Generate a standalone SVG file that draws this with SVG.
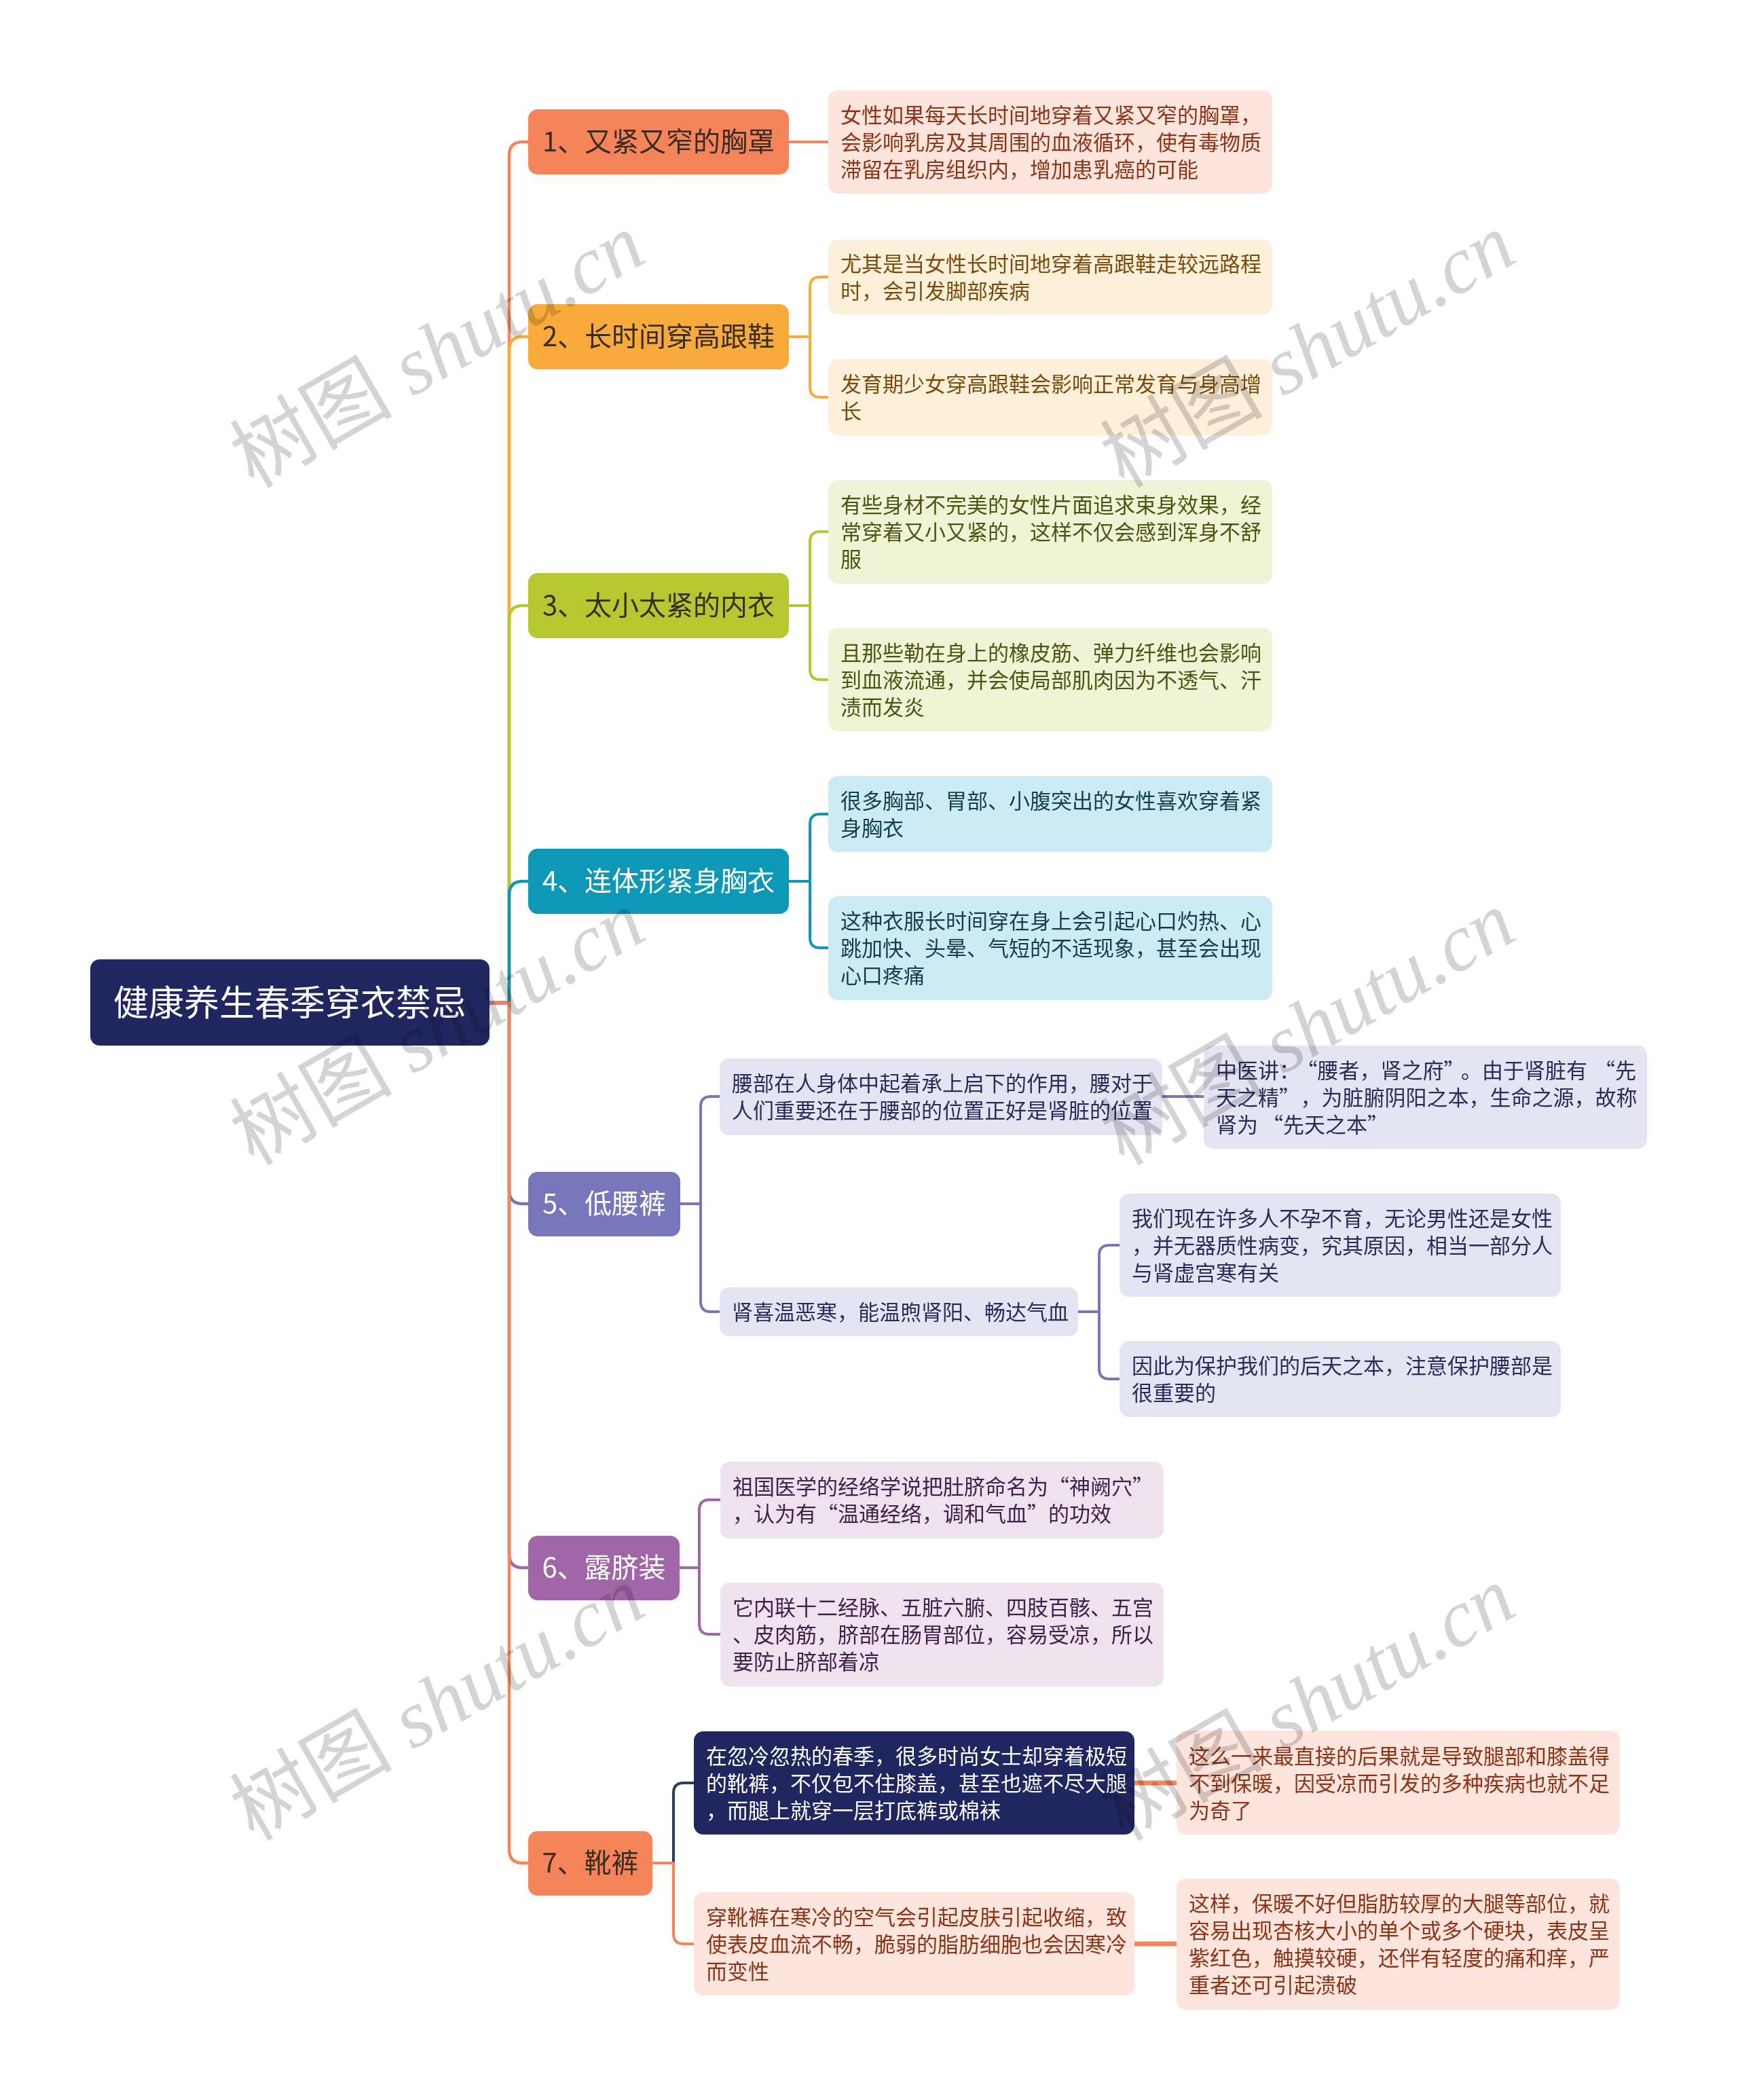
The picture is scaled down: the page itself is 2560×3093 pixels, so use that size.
<svg xmlns="http://www.w3.org/2000/svg" width="2560" height="3093" viewBox="0 0 2560 3093">
<style>
text{font-family:"Noto Sans CJK SC","Noto Sans",sans-serif}
.root{font-size:52px;fill:#ffffff}
.br{font-size:40px;text-anchor:middle}
.lf{font-size:31px}
.dk{fill:#3a2c20}
.wt{fill:#ffffff}
.c1{fill:#8c3415}.c2{fill:#7a4b0c}.c3{fill:#4d5411}.c4{fill:#123f4e}.c5{fill:#2b2a5a}.c6{fill:#40204a}
.con path{fill:none;stroke-linecap:round;stroke-linejoin:round}
.t{stroke-width:4.5}
.s{stroke-width:4}
.k{stroke-width:7}
.wm text{font-size:120px;fill:#d4d4d4;text-anchor:middle;mix-blend-mode:multiply}
</style>
<rect width="2560" height="3093" fill="#ffffff"/>
<g class="con" id="connectors">
<path class="t" stroke="#f6845a" d="M721 1477H750V229Q750 209 770 209H778"/>
<path class="t" stroke="#f8ab3a" d="M721 1477H750V516Q750 496 770 496H778"/>
<path class="t" stroke="#b6c72f" d="M721 1477H750V912Q750 892 770 892H778"/>
<path class="t" stroke="#0e98b8" d="M721 1477H750V1318Q750 1298 770 1298H778"/>
<path class="t" stroke="#7776bb" d="M721 1477H750V1753Q750 1773 770 1773H778"/>
<path class="t" stroke="#a066a8" d="M721 1477H750V2289Q750 2309 770 2309H778"/>
<path class="t" stroke="#f6845a" d="M721 1477H750V2724Q750 2744 770 2744H778"/>
<path class="s" stroke="#f6845a" d="M1162 209H1220"/>
<path class="s" stroke="#f8ab3a" d="M1162 496H1193V423Q1193 408 1208 408H1220M1162 496H1193V570Q1193 585 1208 585H1220"/>
<path class="s" stroke="#b6c72f" d="M1162 892H1193V798Q1193 783 1208 783H1220M1162 892H1193V986Q1193 1001 1208 1001H1220"/>
<path class="s" stroke="#0e98b8" d="M1162 1298H1193V1214Q1193 1199 1208 1199H1220M1162 1298H1193V1381Q1193 1396 1208 1396H1220"/>
<path class="s" stroke="#7776bb" d="M1002 1773H1032V1630Q1032 1615 1047 1615H1060M1002 1773H1032V1917Q1032 1932 1047 1932H1060"/>
<path class="s" stroke="#7776bb" d="M1712 1615H1773"/>
<path class="s" stroke="#7776bb" d="M1588 1932H1619V1849Q1619 1834 1634 1834H1649M1588 1932H1619V2016Q1619 2031 1634 2031H1649"/>
<path class="s" stroke="#a066a8" d="M1001 2309H1030V2224Q1030 2209 1045 2209H1061M1001 2309H1030V2392Q1030 2407 1045 2407H1061"/>
<path class="s" stroke="#2d3b5c" d="M961 2744H992V2641Q992 2626 1007 2626H1022"/>
<path class="s" stroke="#f6845a" d="M961 2744H992V2848Q992 2863 1007 2863H1022"/>
<path class="k" stroke="#f6845a" d="M1671 2626H1733"/>
<path class="k" stroke="#f6845a" d="M1671 2863H1733"/>
</g>
<g id="root"><rect x="133" y="1413" width="588" height="127" rx="14" fill="#20265f"/><text class="root" x="427" y="1496" text-anchor="middle">健康养生春季穿衣禁忌</text></g>
<g id="b1"><rect x="778" y="161" width="384" height="96" rx="14" fill="#f6845a"/><text class="br dk" x="970" y="223">1、又紧又窄的胸罩</text></g>
<g id="b2"><rect x="778" y="448" width="384" height="96" rx="14" fill="#f8ab3a"/><text class="br dk" x="970" y="510">2、长时间穿高跟鞋</text></g>
<g id="b3"><rect x="778" y="844" width="384" height="96" rx="14" fill="#b6c72f"/><text class="br dk" x="970" y="906">3、太小太紧的内衣</text></g>
<g id="b4"><rect x="778" y="1250" width="384" height="96" rx="14" fill="#0e98b8"/><text class="br wt" x="970" y="1312">4、连体形紧身胸衣</text></g>
<g id="b5"><rect x="778" y="1726" width="224" height="95" rx="14" fill="#7776bb"/><text class="br wt" x="890" y="1787">5、低腰裤</text></g>
<g id="b6"><rect x="778" y="2262" width="223" height="95" rx="14" fill="#a066a8"/><text class="br wt" x="889.5" y="2323">6、露脐装</text></g>
<g id="b7"><rect x="778" y="2697" width="183" height="95" rx="14" fill="#f6845a"/><text class="br dk" x="869.5" y="2758">7、靴裤</text></g>
<g id="l1"><rect x="1220" y="133" width="654" height="152" rx="14" fill="#fde4dc"/><text class="lf c1"><tspan x="1238" y="181">女性如果每天长时间地穿着又紧又窄的胸罩，</tspan><tspan x="1238" y="221">会影响乳房及其周围的血液循环，使有毒物质</tspan><tspan x="1238" y="261">滞留在乳房组织内，增加患乳癌的可能</tspan></text></g>
<g id="l2a"><rect x="1220" y="353" width="654" height="110" rx="14" fill="#fdf0da"/><text class="lf c2"><tspan x="1238" y="400">尤其是当女性长时间地穿着高跟鞋走较远路程</tspan><tspan x="1238" y="440">时，会引发脚部疾病</tspan></text></g>
<g id="l2b"><rect x="1220" y="529" width="654" height="112" rx="14" fill="#fdf0da"/><text class="lf c2"><tspan x="1238" y="577">发育期少女穿高跟鞋会影响正常发育与身高增</tspan><tspan x="1238" y="617">长</tspan></text></g>
<g id="l3a"><rect x="1220" y="707" width="654" height="153" rx="14" fill="#f0f4d6"/><text class="lf c3"><tspan x="1238" y="755">有些身材不完美的女性片面追求束身效果，经</tspan><tspan x="1238" y="795">常穿着又小又紧的，这样不仅会感到浑身不舒</tspan><tspan x="1238" y="835">服</tspan></text></g>
<g id="l3b"><rect x="1220" y="925" width="654" height="152" rx="14" fill="#f0f4d6"/><text class="lf c3"><tspan x="1238" y="973">且那些勒在身上的橡皮筋、弹力纤维也会影响</tspan><tspan x="1238" y="1013">到血液流通，并会使局部肌肉因为不透气、汗</tspan><tspan x="1238" y="1053">渍而发炎</tspan></text></g>
<g id="l4a"><rect x="1220" y="1143" width="654" height="112" rx="14" fill="#cdebf3"/><text class="lf c4"><tspan x="1238" y="1191">很多胸部、胃部、小腹突出的女性喜欢穿着紧</tspan><tspan x="1238" y="1231">身胸衣</tspan></text></g>
<g id="l4b"><rect x="1220" y="1320" width="654" height="153" rx="14" fill="#cdebf3"/><text class="lf c4"><tspan x="1238" y="1368">这种衣服长时间穿在身上会引起心口灼热、心</tspan><tspan x="1238" y="1408">跳加快、头晕、气短的不适现象，甚至会出现</tspan><tspan x="1238" y="1448">心口疼痛</tspan></text></g>
<g id="l5a"><rect x="1060" y="1559" width="652" height="113" rx="14" fill="#e5e4f2"/><text class="lf c5"><tspan x="1078" y="1607">腰部在人身体中起着承上启下的作用，腰对于</tspan><tspan x="1078" y="1647">人们重要还在于腰部的位置正好是肾脏的位置</tspan></text></g>
<g id="l5a1"><rect x="1773" y="1540" width="653" height="152" rx="14" fill="#e5e4f2"/><text class="lf c5"><tspan x="1791" y="1588">中医讲：</tspan><tspan dx="10">“腰者，肾之府”</tspan><tspan dx="10">。由于肾脏有</tspan><tspan dx="10">“先</tspan><tspan x="1791" y="1628">天之精”</tspan><tspan dx="16">，为脏腑阴阳之本，生命之源，故称</tspan><tspan x="1791" y="1668">肾为</tspan><tspan dx="6">“先天之本”</tspan></text></g>
<g id="l5b"><rect x="1060" y="1896" width="528" height="72" rx="14" fill="#e5e4f2"/><text class="lf c5"><tspan x="1078" y="1944">肾喜温恶寒，能温煦肾阳、畅达气血</tspan></text></g>
<g id="l5b1"><rect x="1649" y="1758" width="650" height="152" rx="14" fill="#e5e4f2"/><text class="lf c5"><tspan x="1667" y="1806">我们现在许多人不孕不育，无论男性还是女性</tspan><tspan x="1667" y="1846">，并无器质性病变，究其原因，相当一部分人</tspan><tspan x="1667" y="1886">与肾虚宫寒有关</tspan></text></g>
<g id="l5b2"><rect x="1649" y="1975" width="650" height="112" rx="14" fill="#e5e4f2"/><text class="lf c5"><tspan x="1667" y="2023">因此为保护我们的后天之本，注意保护腰部是</tspan><tspan x="1667" y="2063">很重要的</tspan></text></g>
<g id="l6a"><rect x="1061" y="2153" width="653" height="113" rx="14" fill="#eee2ef"/><text class="lf c6"><tspan x="1079" y="2201">祖国医学的经络学说把肚脐命名为“神阙穴”</tspan><tspan x="1079" y="2241">，认为有“温通经络，调和气血”的功效</tspan></text></g>
<g id="l6b"><rect x="1061" y="2331" width="653" height="153" rx="14" fill="#eee2ef"/><text class="lf c6"><tspan x="1079" y="2379">它内联十二经脉、五脏六腑、四肢百骸、五宫</tspan><tspan x="1079" y="2419">、皮肉筋，脐部在肠胃部位，容易受凉，所以</tspan><tspan x="1079" y="2459">要防止脐部着凉</tspan></text></g>
<g id="l7a"><rect x="1022" y="2550" width="649" height="152" rx="14" fill="#20265f"/><text class="lf wt"><tspan x="1040" y="2598">在忽冷忽热的春季，很多时尚女士却穿着极短</tspan><tspan x="1040" y="2638">的靴裤，不仅包不住膝盖，甚至也遮不尽大腿</tspan><tspan x="1040" y="2678">，而腿上就穿一层打底裤或棉袜</tspan></text></g>
<g id="l7a1"><rect x="1733" y="2549" width="653" height="153" rx="14" fill="#fde4dc"/><text class="lf c1"><tspan x="1751" y="2598">这么一来最直接的后果就是导致腿部和膝盖得</tspan><tspan x="1751" y="2638">不到保暖，因受凉而引发的多种疾病也就不足</tspan><tspan x="1751" y="2678">为奇了</tspan></text></g>
<g id="l7b"><rect x="1022" y="2787" width="649" height="152" rx="14" fill="#fde4dc"/><text class="lf c1"><tspan x="1040" y="2835">穿靴裤在寒冷的空气会引起皮肤引起收缩，致</tspan><tspan x="1040" y="2875">使表皮血流不畅，脆弱的脂肪细胞也会因寒冷</tspan><tspan x="1040" y="2915">而变性</tspan></text></g>
<g id="l7b1"><rect x="1733" y="2767" width="653" height="193" rx="14" fill="#fde4dc"/><text class="lf c1"><tspan x="1751" y="2815">这样，保暖不好但脂肪较厚的大腿等部位，就</tspan><tspan x="1751" y="2855">容易出现杏核大小的单个或多个硬块，表皮呈</tspan><tspan x="1751" y="2895">紫红色，触摸较硬，还伴有轻度的痛和痒，严</tspan><tspan x="1751" y="2935">重者还可引起溃破</tspan></text></g>
<g class="wm" id="watermarks">
<text transform="rotate(-30 645 517)" x="645" y="557">树图<tspan font-family="Liberation Serif" font-style="italic"> shutu.cn</tspan></text>
<text transform="rotate(-30 1927 517)" x="1927" y="557">树图<tspan font-family="Liberation Serif" font-style="italic"> shutu.cn</tspan></text>
<text transform="rotate(-30 645 1515)" x="645" y="1555">树图<tspan font-family="Liberation Serif" font-style="italic"> shutu.cn</tspan></text>
<text transform="rotate(-30 1927 1515)" x="1927" y="1555">树图<tspan font-family="Liberation Serif" font-style="italic"> shutu.cn</tspan></text>
<text transform="rotate(-30 645 2510)" x="645" y="2550">树图<tspan font-family="Liberation Serif" font-style="italic"> shutu.cn</tspan></text>
<text transform="rotate(-30 1927 2510)" x="1927" y="2550">树图<tspan font-family="Liberation Serif" font-style="italic"> shutu.cn</tspan></text>
</g>
</svg>
